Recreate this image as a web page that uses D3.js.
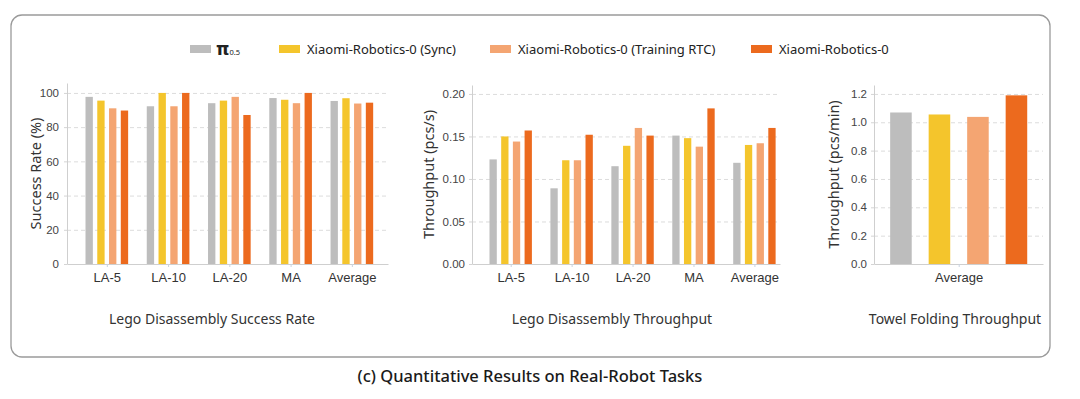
<!DOCTYPE html>
<html>
<head>
<meta charset="utf-8">
<script src="https://cdn.jsdelivr.net/npm/d3@7"></script>
<style>
  body { margin: 0; background: #fff; }
  svg { display: block; font-family: "Noto Sans", sans-serif; }
</style>
</head>
<body>
<svg id="chart" width="1080" height="399"></svg>
<script>
const tasks = ["LA-5", "LA-10", "LA-20", "MA", "Average"];
const seriesNames = ["π0.5", "Xiaomi-Robotics-0 (Sync)", "Xiaomi-Robotics-0 (Training RTC)", "Xiaomi-Robotics-0"];
const seriesColors = ["#bdbdbd", "#f4c52c", "#f4a572", "#ec6a1e"];

// Lego disassembly success rate (%)
const pi05Success = [97.7, 92.2, 94.0, 97.0, 95.3];
const syncSuccess = [95.5, 100, 95.5, 96.0, 96.9];
const rtcSuccess = [91.0, 92.2, 97.7, 94.0, 93.8];
const xr0Success = [89.7, 100, 87.1, 100, 94.3];

// Lego disassembly throughput (pcs/s)
const pi05Tp = [0.123, 0.089, 0.115, 0.151, 0.119];
const syncTp = [0.150, 0.122, 0.139, 0.148, 0.140];
const rtcTp = [0.144, 0.122, 0.160, 0.138, 0.142];
const xr0Tp = [0.157, 0.152, 0.151, 0.183, 0.160];

// Towel folding throughput (pcs/min), one bar per series
const towelTp = [1.069, 1.055, 1.038, 1.190];
const towelGroups = ["Average"];

const successTicks = [0, 20, 40, 60, 80, 100];
const tpTicks = [0, 0.05, 0.10, 0.15, 0.20];
const towelTicks = [0, 0.2, 0.4, 0.6, 0.8, 1.0, 1.2];

const svg = d3.select("#chart");

svg.append("rect")
    .attr("x", 11).attr("y", 15)
    .attr("width", 1039).attr("height", 342)
    .attr("rx", 11)
    .attr("fill", "none")
    .attr("stroke", "#9a9a9a")
    .attr("stroke-width", 1.3);

function drawPanel(p) {
    const x = d3.scaleLinear().domain(p.xDomain).range([p.left, p.right]);
    const y = d3.scaleLinear().domain([0, p.yMax]).range([p.bottom, p.top]);
    const g = svg.append("g");

    // dashed grid
    g.append("g")
        .attr("transform", `translate(${p.left},0)`)
        .call(d3.axisLeft(y).tickValues(p.ticks.slice(1)).tickSize(-(p.right - p.left)).tickFormat(""))
        .call(a => a.select(".domain").remove())
        .selectAll("line")
        .attr("stroke", "#dcdcdc")
        .attr("stroke-dasharray", "4,3");

    g.selectAll(".bar")
        .data(p.bars)
        .join("rect")
        .attr("class", "bar")
        .attr("x", d => x(d.pos - p.barW / 2))
        .attr("width", d => x(d.pos + p.barW / 2) - x(d.pos - p.barW / 2))
        .attr("y", d => y(d.value))
        .attr("height", d => y(0) - y(d.value))
        .attr("fill", d => seriesColors[d.s]);

    g.append("g")
        .attr("transform", `translate(${p.left},0)`)
        .call(d3.axisLeft(y).tickValues(p.ticks).tickFormat(p.fmt).tickSize(3).tickSizeOuter(0).tickPadding(p.yPad))
        .call(a => a.select(".domain").attr("stroke", "#cfcfcf"))
        .call(a => a.selectAll("line").attr("stroke", "#d4d4d4"))
        .selectAll("text")
        .style("font-size", "11.5px")
        .attr("fill", "#444");

    g.append("g")
        .attr("transform", `translate(0,${p.bottom})`)
        .call(d3.axisBottom(x).tickValues(p.tickPos).tickFormat((d, i) => p.groups[i]).tickSize(3).tickSizeOuter(0).tickPadding(6))
        .call(a => a.select(".domain").attr("stroke", "#cfcfcf"))
        .call(a => a.selectAll("line").attr("stroke", "#c9d3e0"))
        .selectAll("text")
        .style("font-size", "13px")
        .attr("fill", "#333");

    g.append("text")
        .attr("transform", `translate(${p.labelX},${(p.top + p.bottom) / 2}) rotate(-90)`)
        .attr("text-anchor", "middle")
        .attr("dominant-baseline", "central")
        .style("font-size", "14.5px")
        .attr("fill", "#333")
        .text(p.yLabel);

    g.append("text")
        .attr("x", p.titleX)
        .attr("y", 318)
        .attr("text-anchor", "middle")
        .attr("dominant-baseline", "central")
        .style("font-size", "14px")
        .attr("fill", "#333")
        .text(p.title);
}

function groupedBars(seriesArrays, step) {
    const out = [];
    seriesArrays.forEach((arr, s) => {
        arr.forEach((v, i) => out.push({pos: i + (s - 1.5) * step, value: v, s: s}));
    });
    return out;
}

drawPanel({
    left: 67, right: 388, top: 83, bottom: 264,
    xDomain: [-0.65, 4.59], yMax: 105.8,
    ticks: successTicks, fmt: d3.format("d"), yPad: 5,
    bars: groupedBars([pi05Success, syncSuccess, rtcSuccess, xr0Success], 0.192),
    barW: 0.12,
    tickPos: d3.range(tasks.length), groups: tasks,
    yLabel: "Success Rate (%)", labelX: 35,
    title: "Lego Disassembly Success Rate", titleX: 212
});

drawPanel({
    left: 472, right: 780, top: 85, bottom: 264,
    xDomain: [-0.635, 4.42], yMax: 0.2105,
    ticks: tpTicks, fmt: d3.format(".2f"), yPad: 4,
    bars: groupedBars([pi05Tp, syncTp, rtcTp, xr0Tp], 0.192),
    barW: 0.12,
    tickPos: d3.range(tasks.length), groups: tasks,
    yLabel: "Throughput (pcs/s)", labelX: 428,
    title: "Lego Disassembly Throughput", titleX: 612
});

drawPanel({
    left: 874, right: 1043, top: 85, bottom: 264,
    xDomain: [-0.70, 3.69], yMax: 1.263,
    ticks: towelTicks, fmt: d3.format(".1f"), yPad: 4,
    bars: towelTp.map((v, s) => ({pos: s, value: v, s: s})),
    barW: 0.56,
    tickPos: [1.5], groups: towelGroups,
    yLabel: "Throughput (pcs/min)", labelX: 833,
    title: "Towel Folding Throughput", titleX: 955
});

// legend
const legendX = [190, 279, 490, 751];
const legend = svg.append("g")
    .selectAll("g")
    .data(seriesNames)
    .join("g")
    .attr("transform", (d, i) => `translate(${legendX[i]},45)`);

legend.append("rect")
    .attr("width", 21)
    .attr("height", 8)
    .attr("fill", (d, i) => seriesColors[i]);

legend.append("text")
    .attr("y", 4)
    .attr("dominant-baseline", "central")
    .style("font-size", "13px")
    .attr("fill", "#222")
    .each(function(d, i) {
        const t = d3.select(this);
        if (i === 0) {
            t.attr("x", 26);
            t.append("tspan").style("font-size", "17px").style("font-weight", "bold").attr("font-family", "DejaVu Sans").text("π");
            t.append("tspan").style("font-size", "7.5px").attr("dy", "3").text("0.5");
        } else {
            t.attr("x", 28).text(d);
        }
    });

svg.append("text")
    .attr("x", 530)
    .attr("y", 375)
    .attr("text-anchor", "middle")
    .attr("dominant-baseline", "central")
    .style("font-size", "16.5px")
    .style("font-weight", "500")
    .attr("fill", "#1a1a1a")
    .text("(c) Quantitative Results on Real-Robot Tasks");
</script>
</body>
</html>
